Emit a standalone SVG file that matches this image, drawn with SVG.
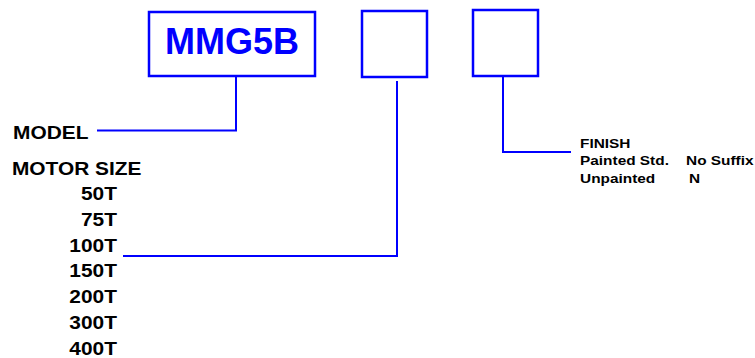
<svg xmlns="http://www.w3.org/2000/svg" width="755" height="358" viewBox="0 0 755 358">
<style>
.box{fill:#fff;stroke:#0000ff;stroke-width:2.5}
.ln{fill:none;stroke:#0000ff;stroke-width:2}
.lbl{font-family:"Liberation Sans",Arial,sans-serif;font-weight:bold;fill:#000}
.big{font-size:18.5px}
.sm{font-size:13.5px}
.num{text-anchor:end}
</style>
<rect width="755" height="358" fill="#fff"/>
<g id="connectors">
<polyline class="ln" points="97,130.5 236,130.5 236,76"/>
<polyline class="ln" points="123,256 397,256 397,81"/>
<polyline class="ln" points="503,76 503,152 571,152"/>
</g>
<g id="model-box">
<rect class="box" x="149" y="12" width="166" height="64"/>
<text x="232" y="54" text-anchor="middle" font-family="Liberation Sans,Arial,sans-serif" font-weight="bold" font-size="36" fill="#0000ff">MMG5B</text>
</g>
<g id="size-box"><rect class="box" x="362" y="11" width="65" height="66"/></g>
<g id="finish-box"><rect class="box" x="473" y="10" width="65" height="66"/></g>
<g id="model-label" transform="scale(1.13 1)">
<text class="lbl big" x="11.5" y="139">MODEL</text>
</g>
<g id="motor-size" transform="scale(1.13 1)">
<text class="lbl big" x="10.6" y="175.5">MOTOR SIZE</text>
<text class="lbl big num" x="103.5" y="200">50T</text>
<text class="lbl big num" x="103.5" y="225.8">75T</text>
<text class="lbl big num" x="103.5" y="251.7">100T</text>
<text class="lbl big num" x="103.5" y="277.5">150T</text>
<text class="lbl big num" x="103.5" y="303.3">200T</text>
<text class="lbl big num" x="103.5" y="329.2">300T</text>
<text class="lbl big num" x="103.5" y="355">400T</text>
</g>
<g id="finish" transform="scale(1.14 1)">
<text class="lbl sm" x="508.8" y="148">FINISH</text>
<text class="lbl sm" x="508.8" y="165.5">Painted Std.</text>
<text class="lbl sm" x="601.8" y="165.5">No Suffix</text>
<text class="lbl sm" x="508.8" y="183">Unpainted</text>
<text class="lbl sm" x="604.4" y="183">N</text>
</g>
</svg>
